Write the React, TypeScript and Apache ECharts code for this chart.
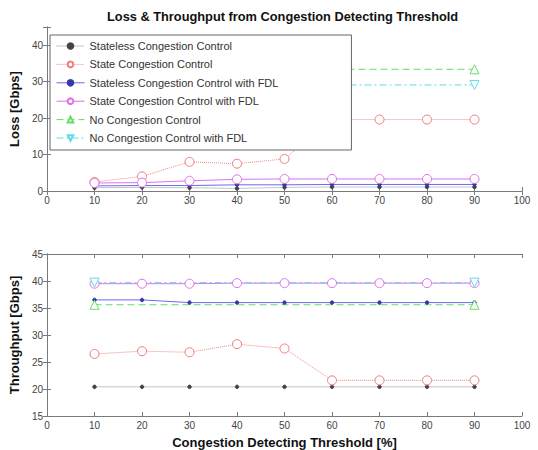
import React, { useEffect, useRef } from "react";
import * as echarts from "echarts";

const thresholds = [10, 20, 30, 40, 50, 60, 70, 80, 90];
const noCcX = [10, 90];

const seriesNames = [
  "Stateless Congestion Control",
  "State Congestion Control",
  "Stateless Congestion Control with FDL",
  "State Congestion Control with FDL",
  "No Congestion Control",
  "No Congestion Control with FDL",
];

const lossStateless = [0.9, 1.0, 0.9, 0.7, 1.0, 1.1, 1.1, 1.1, 1.1];
const lossState = [2.5, 4.0, 8.0, 7.5, 8.8, 19.6, 19.6, 19.6, 19.6];
const lossStatelessFdl = [1.4, 1.5, 1.5, 1.7, 1.7, 1.8, 1.8, 1.8, 1.8];
const lossStateFdl = [2.2, 2.3, 2.8, 3.2, 3.3, 3.3, 3.3, 3.3, 3.3];
const lossNoCc = [33.4, 33.4];
const lossNoCcFdl = [29.1, 29.1];

const thrStateless = [20.4, 20.4, 20.4, 20.4, 20.4, 20.4, 20.4, 20.4, 20.4];
const thrState = [26.5, 27.0, 26.8, 28.3, 27.5, 21.6, 21.6, 21.6, 21.6];
const thrStatelessFdl = [36.5, 36.5, 36.0, 36.0, 36.0, 36.0, 36.0, 36.0, 36.0];
const thrStateFdl = [39.5, 39.5, 39.5, 39.6, 39.6, 39.6, 39.6, 39.6, 39.6];
const thrNoCc = [35.6, 35.6];
const thrNoCcFdl = [39.7, 39.7];

const lossTicks = [0, 10, 20, 30, 40];
const thrTicks = [15, 20, 25, 30, 35, 40, 45];
const xTicks = [0, 10, 20, 30, 40, 50, 60, 70, 80, 90, 100];

const FONT = "Liberation Sans";

const pairs = (xs: number[], ys: number[]) => xs.map((x, i) => [x, ys[i]]);

const styles = [
  { color: "#8a8a8a", type: "dotted", symbol: "circle", size: 3.5, mcolor: "#444", fill: "#444" },
  { color: "#f08a8a", type: "dotted", symbol: "circle", size: 9, mcolor: "#f07a7a", fill: "#fff" },
  { color: "#6a6af0", type: "solid", symbol: "circle", size: 3.5, mcolor: "#3838a8", fill: "#3838a8" },
  { color: "#e070ea", type: "solid", symbol: "circle", size: 9, mcolor: "#e070ea", fill: "#fff" },
  { color: "#66dd66", type: [7, 4], symbol: "triangle", size: 9, mcolor: "#66dd66", fill: "#fff" },
  { color: "#5edde8", type: [7, 3, 2, 3], symbol: "triangle", size: 9, mcolor: "#5edde8", fill: "#fff", rotate: 180 },
];

function makeSeries(idx: number, data: number[][], axis: number) {
  const s: any = styles[idx];
  return {
    type: "line",
    name: seriesNames[idx],
    xAxisIndex: axis,
    yAxisIndex: axis,
    data,
    symbol: s.symbol,
    symbolSize: s.size,
    symbolRotate: s.rotate || 0,
    showAllSymbol: true,
    lineStyle: { color: s.color, width: 1, type: s.type },
    itemStyle: { color: s.fill, borderColor: s.mcolor, borderWidth: 1 },
    z: 2,
  };
}

const axisColor = "#7a7a7a";
const nameStyle = { fontSize: 13, fontWeight: "bold", color: "#111", fontFamily: FONT };

function xAxes(gridIndex: number, withName: boolean) {
  const base = {
    type: "value",
    gridIndex,
    min: 0,
    max: 100,
    interval: 10,
    splitLine: { show: false },
    axisLine: { lineStyle: { color: axisColor, width: 1 } },
    axisTick: { inside: true, length: 4, lineStyle: { color: axisColor } },
  };
  return [
    {
      ...base,
      position: "bottom",
      axisLabel: {
        color: "#444",
        fontSize: 10,
        fontFamily: FONT,
        margin: 4,
        formatter: (v: number) => (xTicks.includes(v) ? String(v) : ""),
      },
      name: withName ? "Congestion Detecting Threshold [%]" : "",
      nameLocation: "middle",
      nameGap: 20,
      nameTextStyle: nameStyle,
    },
    { ...base, position: "top", axisLabel: { show: false } },
  ];
}

function yAxes(gridIndex: number, min: number, max: number, interval: number, name: string, ticks: number[]) {
  const base = {
    type: "value",
    gridIndex,
    min,
    max,
    interval,
    splitLine: { show: false },
    axisLine: { show: true, lineStyle: { color: axisColor, width: 1 } },
    axisTick: { show: true, inside: true, length: 4, lineStyle: { color: axisColor } },
  };
  return [
    {
      ...base,
      position: "left",
      axisLabel: {
        color: "#444",
        fontSize: 10,
        fontFamily: FONT,
        margin: 4,
        formatter: (v: number) => (ticks.includes(v) ? String(v) : ""),
      },
      name,
      nameLocation: "middle",
      nameGap: 17,
      nameTextStyle: nameStyle,
    },
    { ...base, position: "right", axisLabel: { show: false } },
  ];
}

export default function App() {
  const ref = useRef<HTMLDivElement>(null);
  useEffect(() => {
    if (!ref.current) return;
    const chart = echarts.init(ref.current, undefined, { renderer: "svg" });
    const xa = [...xAxes(0, false), ...xAxes(1, true)];
    const ya = [
      ...yAxes(0, 0, 45, 10, "Loss [Gbps]", lossTicks),
      ...yAxes(1, 15, 45, 5, "Throughput [Gbps]", thrTicks),
    ];
    const series = [
      makeSeries(0, pairs(thresholds, lossStateless), 0),
      makeSeries(1, pairs(thresholds, lossState), 0),
      makeSeries(2, pairs(thresholds, lossStatelessFdl), 0),
      makeSeries(3, pairs(thresholds, lossStateFdl), 0),
      makeSeries(4, pairs(noCcX, lossNoCc), 0),
      makeSeries(5, pairs(noCcX, lossNoCcFdl), 0),
      makeSeries(0, pairs(thresholds, thrStateless), 2),
      makeSeries(1, pairs(thresholds, thrState), 2),
      makeSeries(2, pairs(thresholds, thrStatelessFdl), 2),
      makeSeries(3, pairs(thresholds, thrStateFdl), 2),
      makeSeries(4, pairs(noCcX, thrNoCc), 2),
      makeSeries(5, pairs(noCcX, thrNoCcFdl), 2),
    ];
    chart.setOption({
      animation: false,
      backgroundColor: "#fff",
      title: {
        text: "Loss & Throughput from Congestion Detecting Threshold",
        left: 102,
        top: 5,
        textStyle: { fontSize: 12.8, fontWeight: "bold", color: "#111", fontFamily: FONT },
      },
      legend: {
        orient: "vertical",
        left: 50,
        top: 35,
        data: seriesNames,
        backgroundColor: "#fff",
        borderColor: "#666",
        borderWidth: 1,
        borderRadius: 0,
        padding: [4, 73, 5, 6],
        itemWidth: 28,
        itemHeight: 7,
        itemGap: 4.4,
        lineStyle: { width: 1 },
        textStyle: { fontSize: 11, lineHeight: 14, color: "#333", fontFamily: FONT },
        z: 10,
      },
      grid: [
        { left: 43, right: 16, top: 27, height: 164 },
        { left: 43, right: 16, top: 254, height: 165 },
      ],
      xAxis: xa,
      yAxis: ya,
      series,
    });
    return () => chart.dispose();
  }, []);
  return (
    <div
      ref={ref}
      style={{ position: "fixed", left: 0, top: 0, width: 538, height: 450, background: "#fff" }}
    />
  );
}
